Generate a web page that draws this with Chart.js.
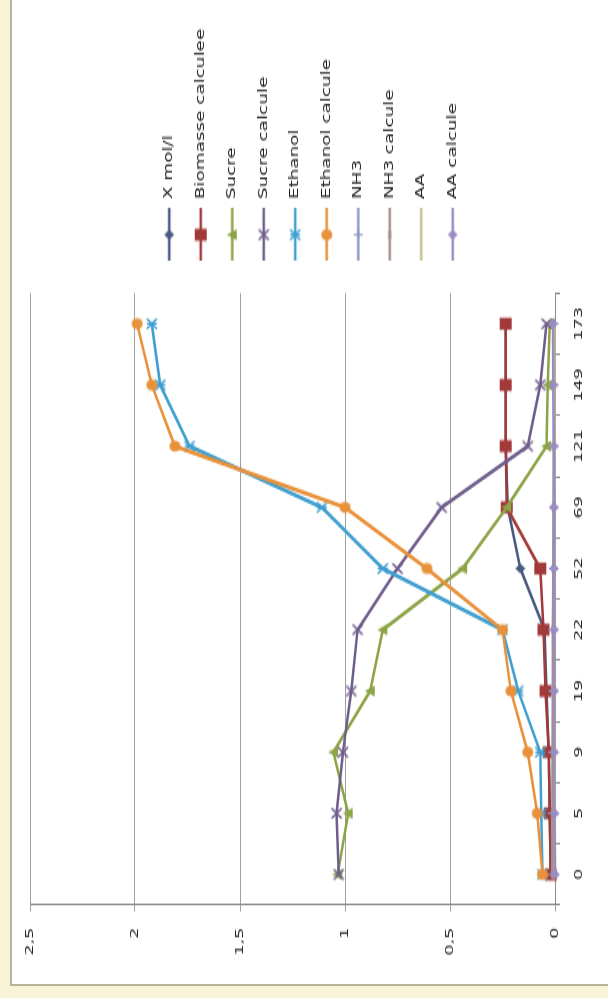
<!DOCTYPE html>
<html>
<head>
<meta charset="utf-8">
<script src="https://cdn.jsdelivr.net/npm/chart.js@4.4.0/dist/chart.umd.min.js"></script>
<style>
  html, body { margin: 0; padding: 0; }
  body { width: 608px; height: 998px; overflow: hidden; background: #f8f4d8; position: relative; }
  #frame { position: absolute; left: 10px; top: -10px; width: 700px; height: 996px; box-sizing: border-box; border: 2px solid #b7b49c; background: #fff; }
  /* the chart is laid out landscape, then turned on its side and widened */
  #wrap { position: absolute; left: 0; top: 0; width: 624px; height: 608px; transform-origin: 0 0; transform: translate(0px, 998px) rotate(-90deg) scaleX(1.5994); }
</style>
</head>
<body>
<div id="frame"></div>
<div id="wrap"><canvas id="chart" width="624" height="608"></canvas></div>
<script>
const categories = ['0', '5', '9', '19', '22', '52', '69', '121', '149', '173'];
const valueTicks = ['0', '0,5', '1', '1,5', '2', '2,5'];

const xMol       = [0.02, 0.025, 0.03, 0.04, 0.05, 0.165, 0.225, 0.235, 0.235, 0.235];
const biomasse   = [0.02, 0.025, 0.03, 0.045, 0.055, 0.07, 0.23, 0.235, 0.235, 0.235];
const sucre      = [1.035, 0.985, 1.055, 0.88, 0.82, 0.44, 0.23, 0.04, 0.035, 0.025];
const sucreCalc  = [1.03, 1.04, 1.01, 0.97, 0.94, 0.75, 0.54, 0.13, 0.07, 0.04];
const ethanol    = [0.06, 0.065, 0.07, 0.175, 0.25, 0.82, 1.11, 1.74, 1.88, 1.92];
const ethanolCalc = [0.06, 0.085, 0.13, 0.21, 0.25, 0.61, 1.0, 1.81, 1.92, 1.99];
const nh3        = [0.012, 0.012, 0.011, 0.010, 0.010, 0.008, 0.006, 0.004, 0.004, 0.004];
const nh3Calc    = [0.012, 0.011, 0.011, 0.010, 0.009, 0.007, 0.006, 0.005, 0.004, 0.004];
const aa         = [0.0, 0.001, 0.002, 0.003, 0.003, 0.004, 0.004, 0.004, 0.004, 0.004];
const aaCalc     = [0.0, 0.002, 0.003, 0.004, 0.004, 0.005, 0.005, 0.006, 0.008, 0.01];

const seriesNames = ['X mol/l', 'Biomasse calculee', 'Sucre', 'Sucre calcule', 'Ethanol',
  'Ethanol calcule', 'NH3', 'NH3 calcule', 'AA', 'AA calcule'];
const seriesData = [xMol, biomasse, sucre, sucreCalc, ethanol, ethanolCalc, nh3, nh3Calc, aa, aaCalc];
const colors = ['#46597f', '#a33a3a', '#8ca445', '#6f5d8c', '#3f9fd0',
  '#e8913a', '#8e9cc0', '#a58f86', '#c4bf8e', '#9a8cc0'];
const markers = ['diamond', 'square', 'triangle', 'x', 'star', 'circle', 'plus', 'dash', null, 'diamond'];
const markerSizes = [10, 12, 11, 10, 10, 11, 9, 8, 0, 10];

const STRETCH = 998 / 624;

// marker bitmaps are squeezed so they come out round after the css widening
function markerCanvas(shape, color, size, lineLen) {
  const w = lineLen || Math.ceil((size + 4) / STRETCH);
  const h = (size || 8) + 4;
  const c = document.createElement('canvas');
  c.width = w;
  c.height = h;
  const ctx = c.getContext('2d');
  if (lineLen) {
    ctx.strokeStyle = color;
    ctx.lineWidth = 2.5;
    ctx.beginPath();
    ctx.moveTo(0, h / 2);
    ctx.lineTo(w, h / 2);
    ctx.stroke();
  }
  if (!shape) return c;
  ctx.translate(w / 2, h / 2);
  ctx.scale(1 / STRETCH, 1);
  const r = size / 2;
  ctx.fillStyle = color;
  ctx.strokeStyle = color;
  ctx.lineWidth = 1.8;
  ctx.beginPath();
  switch (shape) {
    case 'diamond':
      ctx.moveTo(0, -r); ctx.lineTo(r, 0); ctx.lineTo(0, r); ctx.lineTo(-r, 0); ctx.closePath(); ctx.fill();
      break;
    case 'square':
      ctx.rect(-r, -r, size, size); ctx.fill();
      break;
    case 'triangle':
      ctx.moveTo(0, -r); ctx.lineTo(r, r * 0.8); ctx.lineTo(-r, r * 0.8); ctx.closePath(); ctx.fill();
      break;
    case 'circle':
      ctx.arc(0, 0, r, 0, Math.PI * 2); ctx.fill();
      break;
    case 'x':
      ctx.moveTo(-r, -r); ctx.lineTo(r, r); ctx.moveTo(r, -r); ctx.lineTo(-r, r); ctx.stroke();
      break;
    case 'star':
      ctx.moveTo(-r, -r); ctx.lineTo(r, r); ctx.moveTo(r, -r); ctx.lineTo(-r, r);
      ctx.moveTo(0, -r); ctx.lineTo(0, r); ctx.stroke();
      break;
    case 'plus':
      ctx.moveTo(-r, 0); ctx.lineTo(r, 0); ctx.moveTo(0, -r); ctx.lineTo(0, r); ctx.stroke();
      break;
    case 'dash':
      ctx.rect(-r, -1.5, size, 3); ctx.fill();
      break;
  }
  return c;
}

const legendIcons = seriesNames.map((n, i) => markerCanvas(markers[i], colors[i], markerSizes[i], 33));

const datasets = seriesNames.map((name, i) => ({
  label: name,
  data: seriesData[i],
  borderColor: colors[i],
  backgroundColor: colors[i],
  borderWidth: 2.5,
  pointStyle: markers[i] ? markerCanvas(markers[i], colors[i], markerSizes[i]) : false,
  pointRadius: markers[i] ? 4 : 0,
  tension: 0,
  clip: false,
  order: seriesNames.length - i
}));

Chart.defaults.font.family = 'DejaVu Sans';

new Chart(document.getElementById('chart'), {
  type: 'line',
  data: { labels: categories, datasets: datasets },
  options: {
    responsive: false,
    devicePixelRatio: 1,
    animation: false,
    events: [],
    layout: { padding: { top: 30, bottom: 16, left: 0, right: 8 } },
    plugins: {
      tooltip: { enabled: false },
      legend: {
        position: 'right',
        maxWidth: 400,
        labels: {
          usePointStyle: true,
          pointStyleWidth: 33,
          padding: 20,
          color: '#222',
          font: { size: 11.5 },
          sort: (a, b) => a.datasetIndex - b.datasetIndex,
          generateLabels(chart) {
            return Chart.defaults.plugins.legend.labels.generateLabels(chart)
              .map(item => Object.assign(item, { pointStyle: legendIcons[item.datasetIndex] }));
          }
        }
      }
    },
    scales: {
      x: {
        type: 'category',
        offset: true,
        grid: { offset: true, drawOnChartArea: false, tickLength: 5, color: '#8c8c8c' },
        border: { color: '#8c8c8c' },
        ticks: { padding: 13, color: '#222', font: { size: 11 }, maxRotation: 0, autoSkip: false },
        afterFit(scale) { scale.height = 37; }
      },
      y: {
        min: 0,
        max: 2.5,
        ticks: { stepSize: 0.5, padding: 10, color: '#222', font: { size: 11 },
          callback: (v, i) => valueTicks[i] },
        grid: { color: '#a0a0a0', tickLength: 4 },
        border: { color: '#8c8c8c' },
        afterFit(scale) { scale.width = 58; }
      }
    }
  }
});
</script>
</body>
</html>
